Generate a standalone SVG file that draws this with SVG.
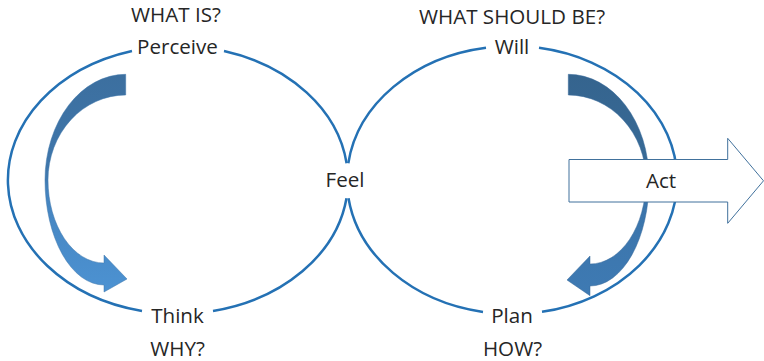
<svg xmlns="http://www.w3.org/2000/svg" width="764" height="361" viewBox="0 0 764 361">
<defs>
<style>
text{font-family:"Open Sans","Liberation Sans",sans-serif;font-size:20.6px;fill:#262626;text-anchor:middle}
.loop{fill:none;stroke:#2471B4;stroke-width:2.5}
.act{fill:#ffffff;stroke:#41719C;stroke-width:1}
</style>
<linearGradient id="gL" x1="0" y1="0" x2="0" y2="1">
<stop offset="0" stop-color="#3C6F9F"/>
<stop offset="0.45" stop-color="#3F77AC"/>
<stop offset="0.55" stop-color="#4584BF"/>
<stop offset="1" stop-color="#4C92D2"/>
</linearGradient>
<linearGradient id="gR" x1="0" y1="0" x2="0" y2="1">
<stop offset="0" stop-color="#35648E"/>
<stop offset="0.45" stop-color="#386B98"/>
<stop offset="0.55" stop-color="#3B74AA"/>
<stop offset="1" stop-color="#3E7AB3"/>
</linearGradient>
</defs>
<rect width="764" height="361" fill="#ffffff"/>
<g id="connectors">
<path class="loop" d="M224,51 A170,134 0 0,1 346.6,163.3 M346.5,198.3 A170,134 0 0,1 213,311 M142,311 A170,134 0 0,1 132,51"/>
<path class="loop" d="M539,47.8 A165,134 0 0,1 542,311.8 M483,311.9 A165,134 0 0,1 348.5,198.3 M348.3,163.3 A165,134 0 0,1 486,47.7"/>
<path id="arrow-think" fill="url(#gL)" stroke="#3E76AA" stroke-width="0.5" d="M125.7,74.3 A80.7,105.7 0 0,0 45,180 A59,105 0 0,0 104,285 L104,292 L127,279 L104,255 L104,263 A56,83 0 0,1 48,180 A77.7,85 0 0,1 125.7,95 Z"/>
<path id="arrow-plan" fill="url(#gR)" stroke="#37699A" stroke-width="0.5" transform="translate(694,0) scale(-1,1)" d="M125.7,74.3 A80.7,105.7 0 0,0 45,180 A59,105 0 0,0 104,286 L104,295.7 L127,280 L104,256 L104,264 A56,84 0 0,1 48,180 A77.7,85 0 0,1 125.7,95 Z"/>
</g>
<g id="what-is"><text x="176" y="21.7">WHAT IS?</text></g>
<g id="perceive"><text x="177.5" y="54.3">Perceive</text></g>
<g id="what-should-be"><text x="512" y="24">WHAT SHOULD BE?</text></g>
<g id="will"><text x="512" y="54.3">Will</text></g>
<g id="feel"><text x="345" y="187.3">Feel</text></g>
<g id="think"><text x="177.5" y="322.7">Think</text></g>
<g id="why"><text x="177.5" y="356">WHY?</text></g>
<g id="plan"><text x="512" y="322.7">Plan</text></g>
<g id="how"><text x="512.5" y="356">HOW?</text></g>
<g id="act">
<path class="act" d="M569,159.5 H727.7 V138.3 L763.5,180.8 L727.7,223.3 V202 H569 Z"/>
<text x="661" y="188.3">Act</text>
</g>
</svg>
